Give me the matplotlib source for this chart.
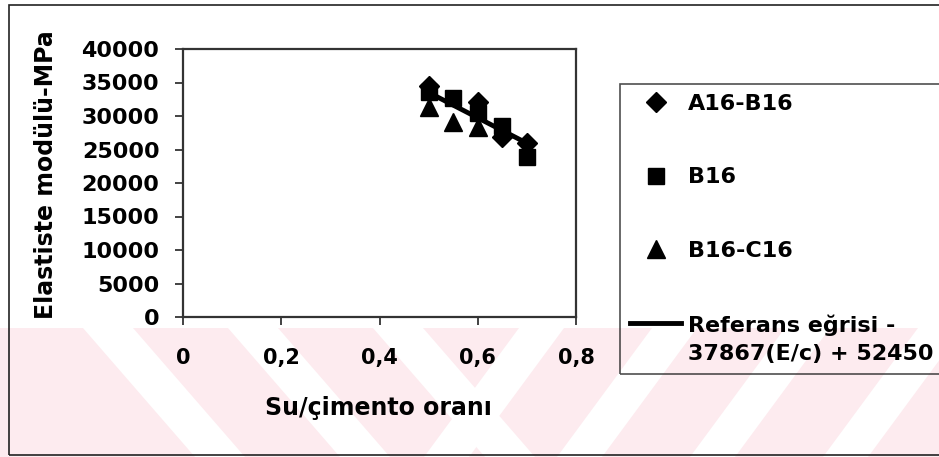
import numpy as np
import matplotlib.pyplot as plt
from matplotlib.legend_handler import HandlerLine2D
from matplotlib.patches import Rectangle, Polygon

W, H = 939, 457  # canvas size in px

# su/cimento orani -> elastisite modulu (MPa)
wc_ab = [0.50, 0.60, 0.65, 0.70]
e_ab = [34500, 32100, 26900, 26000]

wc_b = [0.50, 0.55, 0.60, 0.65, 0.70]
e_b = [33600, 32750, 30450, 28450, 23900]

wc_bc = [0.50, 0.55, 0.60]
e_bc = [31350, 29050, 28350]

# referans egrisi: E = -37867 (E/c) + 52450
ref_slope = -37867
ref_icpt = 52450
ref_wc = [0.50, 0.70]

xticks = [0, 0.2, 0.4, 0.6, 0.8]
xtick_labels = ['0', '0,2', '0,4', '0,6', '0,8']
yticks = [0, 5000, 10000, 15000, 20000, 25000, 30000, 35000, 40000]

labels = ['A16-B16', 'B16', 'B16-C16',
          'Referans eğrisi -\n37867(E/c) + 52450']

plt.rcParams['font.family'] = ['DejaVu Sans']
plt.rcParams['font.weight'] = 'bold'


def px(x, y):
    # pixel position (top-left origin) -> figure fraction
    return x / W, 1 - y / H


class RaisedLine(HandlerLine2D):
    # put the line next to the first row of a two-row label
    def create_artists(self, legend, orig_handle, xdescent, ydescent,
                       width, height, fontsize, trans):
        lift = 0.72 * fontsize
        return super().create_artists(legend, orig_handle, xdescent,
                                      ydescent - 2 * lift, width, height,
                                      fontsize, trans)


fig = plt.figure(figsize=(W / 100, H / 100), dpi=100)

# pale pink stamp along the bottom
pink = '#fdebef'
fig.add_artist(Rectangle(px(0, 457), 1, (457 - 328) / H, color=pink,
                         lw=0, zorder=-5))
for x0 in [83, 228, 373]:          # "\" gaps
    pts = [px(x0, 328), px(x0 + 50, 328), px(x0 + 50 + 112, 457),
           px(x0 + 112, 457)]
    fig.add_artist(Polygon(pts, color='white', lw=0, zorder=-4))
for x0 in [519, 652, 785, 918]:    # "/" gaps
    pts = [px(x0, 328), px(x0 + 45, 328), px(x0 + 45 - 95, 457),
           px(x0 - 95, 457)]
    fig.add_artist(Polygon(pts, color='white', lw=0, zorder=-4))

# outer chart frame
fig.add_artist(Rectangle(px(9, 455), (950 - 9) / W, (455 - 5) / H,
                         fill=False, ec='#222222', lw=1.2, zorder=-3))

ax = fig.add_axes([183 / W, 1 - 317 / H, (576 - 183) / W, (317 - 49) / H])
ax.set_facecolor('none')

ref_e = [ref_slope * w + ref_icpt for w in ref_wc]
ref_line, = ax.plot(ref_wc, ref_e, color='black', lw=3.5, zorder=2)
h_ab, = ax.plot(wc_ab, e_ab, ls='none', marker='D', ms=10,
                color='black', zorder=3)
h_b, = ax.plot(wc_b, e_b, ls='none', marker='s', ms=11.5,
               color='black', zorder=3)
h_bc, = ax.plot(wc_bc, e_bc, ls='none', marker='^', ms=12.5,
                color='black', zorder=3)

ax.set_xlim(0, 0.8)
ax.set_ylim(0, 40000)
ax.set_xticks(xticks)
ax.set_xticklabels(xtick_labels)
ax.set_yticks(yticks)
ax.set_yticklabels([str(v) for v in yticks])
ax.tick_params(axis='both', direction='out', length=6, width=1.2,
               color='#222222')
ax.tick_params(axis='y', pad=11, labelsize=16)
ax.tick_params(axis='x', pad=16, labelsize=15)
for sp in ax.spines.values():
    sp.set_color('#333333')
    sp.set_linewidth(1.6)

ax.set_xlabel('Su/çimento oranı', fontsize=17, fontweight='bold',
              va='center')
ax.xaxis.set_label_coords(*px(378, 408), transform=fig.transFigure)
ax.set_ylabel('Elastiste modülü-MPa', fontsize=17, fontweight='bold',
              va='center')
ax.yaxis.set_label_coords(*px(46, 175), transform=fig.transFigure)

# legend box runs past the right edge of the canvas
x0, y0 = px(620, 84)
leg = ax.legend([h_ab, h_b, h_bc, ref_line], labels,
                loc='upper left', mode='expand',
                bbox_to_anchor=(x0, 0, 340 / W, y0),
                bbox_transform=fig.transFigure, borderaxespad=0,
                frameon=True, fancybox=False, numpoints=1,
                fontsize=16, borderpad=0.45, labelspacing=2.4,
                handlelength=2.3, handletextpad=0.3,
                handler_map={ref_line: RaisedLine()})
leg.get_frame().set_edgecolor('#222222')
leg.get_frame().set_facecolor('none')
leg.get_frame().set_linewidth(1.2)
leg.get_texts()[3].set_linespacing(1.55)

fig.savefig('out.png', dpi=100)
